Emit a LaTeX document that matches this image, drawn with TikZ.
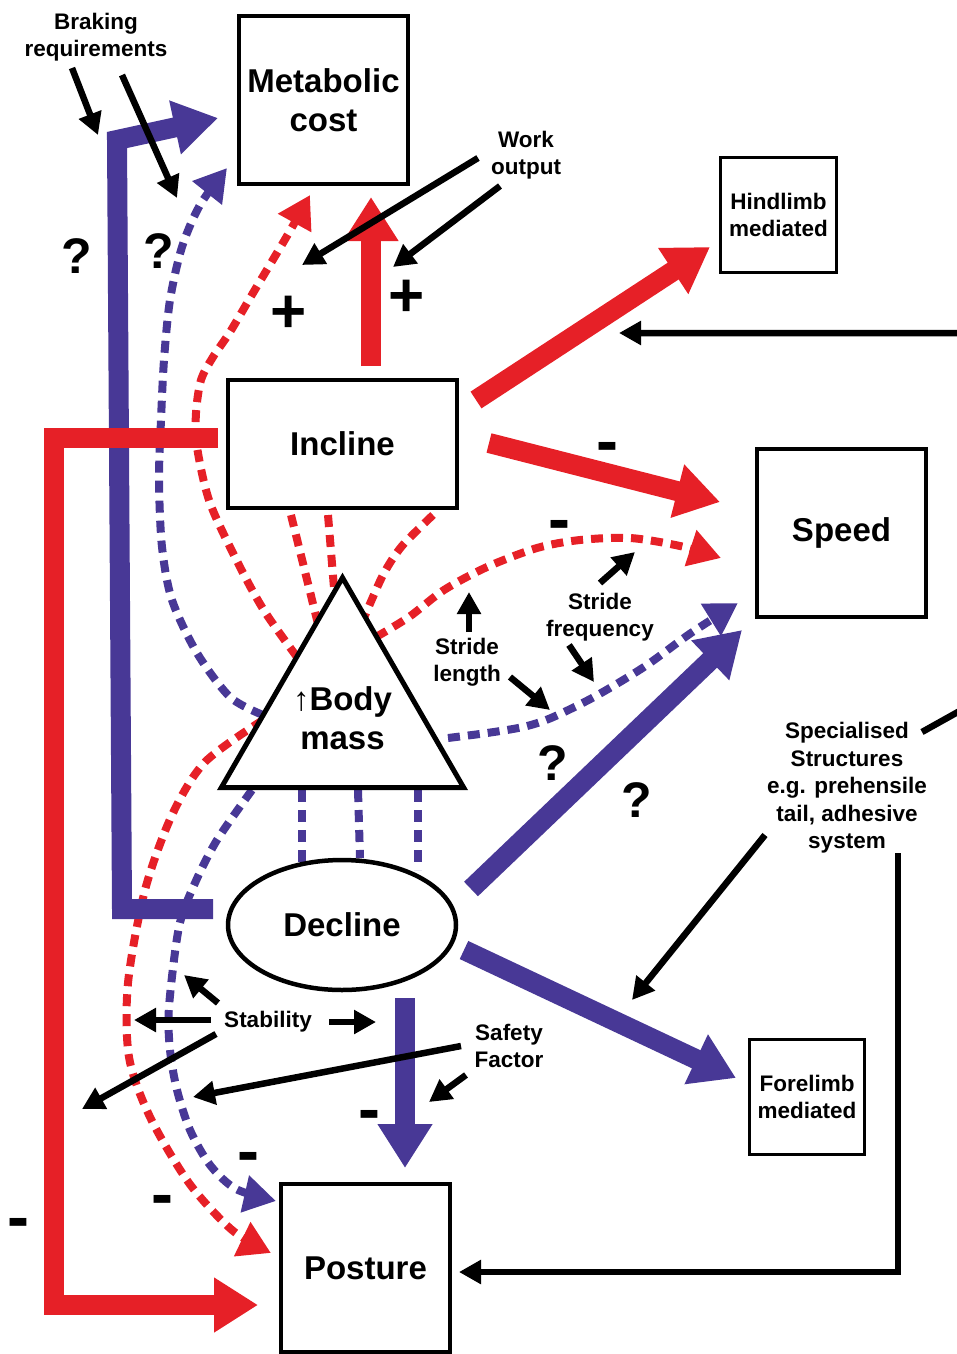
\documentclass[tikz,border=0pt]{standalone}
\usepackage{fontspec}
\setmainfont{Liberation Sans}
\usetikzlibrary{arrows.meta,shapes.geometric}
\definecolor{myred}{RGB}{230,32,39}
\definecolor{myblue}{RGB}{72,56,150}
\newcommand\bigtxt{\fontsize{33}{39}\selectfont\bfseries}
\newcommand\smtxt{\fontsize{22.5}{27.5}\selectfont\bfseries}
\pgfdeclarelayer{bg}
\pgfsetlayers{bg,main}
\begin{document}
\begin{tikzpicture}[x=1pt,y=-1pt,
 nbox/.style={draw=black, line width=4pt, fill=white, inner sep=0pt, align=center, font=\bigtxt},
 sbox/.style={draw=black, line width=3.5pt, fill=white, inner sep=0pt, align=center, font=\smtxt},
 lbl/.style={font=\smtxt, align=center, inner sep=0pt},
 fat/.style={line width=20pt, -{Triangle[length=44pt,width=52pt]}},
 dsh/.style={line width=8pt, dash pattern=on 12pt off 8pt},
 dhead/.style={-{Triangle[length=32pt,width=36pt]}},
 karr/.style={black, line width=6.5pt, -{Triangle[length=22pt,width=23pt]}},
 qm/.style={font=\fontsize{50}{50}\selectfont\bfseries, inner sep=0pt},
 pm/.style={font=\fontsize{62}{62}\selectfont\bfseries, inner sep=0pt},
 mn/.style={font=\fontsize{66}{66}\selectfont\bfseries, inner sep=0pt}
]
\useasboundingbox (0,0) rectangle (957,1354);

% ---------- nodes ----------
\node[nbox, minimum width=169pt, minimum height=168pt] (metab) at (323.5,100) {Metabolic\\cost};
\node[nbox, minimum width=229pt, minimum height=128pt] (incline) at (342.5,444) {Incline};
\node[nbox, minimum width=169pt, minimum height=168pt] (speed) at (841.5,533) {Speed};
\node[nbox, minimum width=169pt, minimum height=168pt] (posture) at (365.5,1268) {Posture};
\node[sbox, minimum width=116pt, minimum height=115pt] (hind) at (778.5,215) {Hindlimb\\mediated};
\node[sbox, minimum width=115pt, minimum height=115pt] (fore) at (807,1097) {Forelimb\\mediated};
\node[draw=black, line width=5pt, fill=white, regular polygon, regular polygon sides=3,
      minimum size=269pt, inner sep=0pt, align=center, font=\bigtxt] (body) at (342.5,717.7)
      {{\mdseries ↑}Body\\mass};
\node[draw=black, ellipse, line width=4.5pt, fill=white, minimum width=228pt,
      minimum height=130pt, inner sep=0pt, font=\bigtxt] (decline) at (342,925) {Decline};

% ---------- background connectors ----------
\begin{pgfonlayer}{bg}
% red dashed
\draw[dsh, myred, dhead] plot[smooth] coordinates {(297,657) (265,612) (240,567) (210,503) (197,447) (196,413) (201,380) (213,357) (230,332) (253,293) (287,236) (310,195)};
\draw[dsh, myred] (291,515) -- (318,624);
\draw[dsh, myred] (328,515) -- (334,588);
\draw[dsh, myred] plot[smooth] coordinates {(433,515) (402,546) (383,575) (364,618)};
\draw[dsh, myred, dhead] plot[smooth] coordinates {(376,637) (409,617) (444,590) (487,567) (537,548) (580,540) (630,538) (680,546) (721,558)};
\draw[dsh, myred, dhead] plot[smooth] coordinates {(263,720) (205,762) (172,815) (145,890) (128,983) (129,1057) (150,1117) (189,1183) (232,1230) (271,1253)};
% blue dashed
\draw[dsh, myblue, dhead] plot[smooth] coordinates {(263,715) (230,697) (197,653) (172,600) (162,547) (159,480) (161,420) (164,360) (170,300) (182,247) (200,205) (227,168)};
\draw[dsh, myblue, dhead] plot[smooth] coordinates {(252,790) (217,840) (195,883) (179,927) (169,1007) (170,1050) (177,1090) (190,1130) (210,1165) (236,1189) (276,1201)};
\draw[dsh, myblue, dhead] plot[smooth] coordinates {(448,738) (487,733) (523,727) (551,718) (594,697) (644,667) (691,633) (738,603)};
\draw[dsh, myblue] (302,790) -- (302,862);
\draw[dsh, myblue] (358,790) -- (360,858);
\draw[dsh, myblue] (418,790) -- (418,870);
% thick arrows
\draw[fat, myblue] (213,909) -- (122,909) -- (117,140) -- (218,118);
\draw[fat, myblue] (471,889) -- (742,630);
\draw[fat, myblue] (464,950) -- (736,1078);
\draw[fat, myblue] (405,998) -- (405,1168);
\draw[fat, myred] (371,366) -- (371,197);
\draw[fat, myred] (476,400) -- (710,247);
\draw[fat, myred] (489,443) -- (720,502);
\draw[fat, myred] (218,438) -- (54,438) -- (54,1305) -- (258,1305);
\end{pgfonlayer}

% ---------- labels ----------
\node[lbl] (brk) at (96,37) {Braking\\requirements};
\node[lbl] (work) at (526,155) {Work\\output};
\node[lbl] (slen) at (467,662) {Stride\\length};
\node[lbl] (sfreq) at (600,617) {Stride\\frequency};
\node[lbl] (spec) at (847,788) {Specialised\\Structures\\e.g. prehensile\\tail, adhesive\\system};
\node[lbl] (stab) at (268,1022) {Stability};
\node[lbl] (safe) at (509,1046) {Safety\\Factor};

% ---------- black arrows ----------
\draw[karr] (72,68) -- (98,135);
\draw[karr] (122,75) -- (177,198);
\draw[karr] (478,158) -- (302,265);
\draw[karr] (500,186) -- (393,267);
\draw[karr] (469,632) -- (469,592);
\draw[karr] (510,677) -- (550,710);
\draw[karr] (600,583) -- (635,552);
\draw[karr] (569,645) -- (594,682);
\draw[karr] (218,1003) -- (184,975);
\draw[karr] (211,1020) -- (134,1020);
\draw[karr] (329,1022) -- (376,1022);
\draw[karr] (216,1034) -- (82,1109);
\draw[karr] (461,1046) -- (193,1097);
\draw[karr] (466,1075) -- (429,1102);
\draw[karr] (765,835) -- (632,1000);
\draw[karr, line join=miter] (922,732) -- (965,708) -- (965,333) -- (619,333);
\draw[karr, line join=miter] (898,853) -- (898,1272) -- (459,1272);

% ---------- signs ----------
\node[qm] (q1) at (77,256) {?};
\node[qm] (q2) at (159,251) {?};
\node[qm] (q3) at (553,763) {?};
\node[qm] (q4) at (637,800) {?};
\node[pm] (p1) at (289,314) {+};
\node[pm] (p2) at (407,298) {+};
\node[mn] (m1) at (607,453) {-};
\node[mn] (m2) at (559,531) {-};
\node[mn] (m3) at (369,1121) {-};
\node[mn] (m4) at (248,1163) {-};
\node[mn] (m5) at (162,1206) {-};
\node[mn] (m6) at (18,1229) {-};
\end{tikzpicture}
\end{document}
